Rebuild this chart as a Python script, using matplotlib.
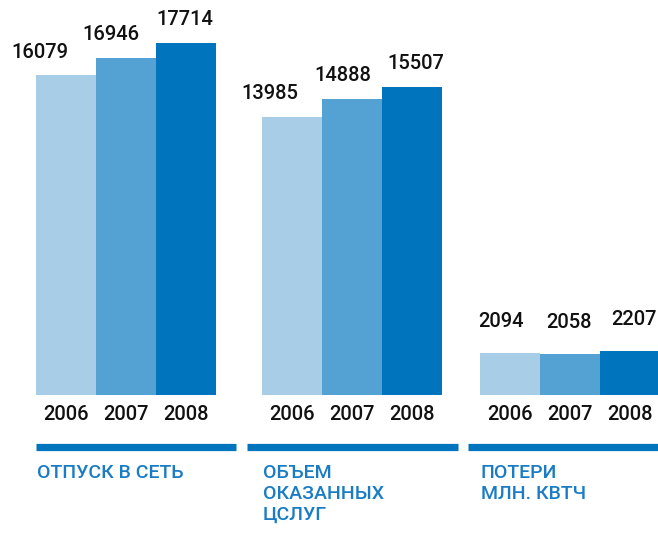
import matplotlib.pyplot as plt
import matplotlib.transforms as mtransforms

# данные
years = ["2006", "2007", "2008"]
groups = ["ОТПУСК В СЕТЬ", "ОБЪЕМ\nОКАЗАННЫХ\nЦСЛУГ", "ПОТЕРИ\nМЛН. КВТЧ"]
otpusk = [16079, 16946, 17714]
obem = [13985, 14888, 15507]
poteri = [2094, 2058, 2207]
values = [otpusk, obem, poteri]

colors = ["#a8cde7", "#53a2d3", "#0074bd"]
text_blue = "#1a7cc4"

plt.rcParams['font.family'] = ['Roboto', 'DejaVu Sans']

W, H = 658, 534
fig = plt.figure(figsize=(W / 100, H / 100), dpi=100)
base_px = 395  # baseline, pixels from top
ax = fig.add_axes([0, (H - base_px) / H, 1, base_px / H])
ax.set_xlim(0, W)
ax.set_ylim(0, max(otpusk) * base_px / 352)
ax.axis('off')

bar_w = 60
group_left = [36, 262, 480]
line_span = [(36, 236), (247, 458), (468, 658)]
# сдвиг подписей значений (px), как в оригинале
label_dx = [[-26, -15, -1], [-22, -9, 4], [-9, -1, 4]]
label_dy = [10, 10, 16]
trans = mtransforms.blended_transform_factory(ax.transData, ax.transAxes)
px = 1 / base_px  # one pixel in axes units (vertical)

for g, vals in enumerate(values):
    for i, v in enumerate(vals):
        x0 = group_left[g] + i * bar_w
        ax.bar(x0, v, width=bar_w, align='edge', color=colors[i], linewidth=0)
        ax.annotate(str(v), (x0 + bar_w / 2, v), xytext=(label_dx[g][i] * 0.72, label_dy[g]),
                    textcoords='offset points', ha='center', va='bottom',
                    fontsize=14.5, fontweight='medium', color='#111111')
        ax.text(x0 + bar_w / 2, -20 * px, years[i], transform=trans, ha='center', va='center',
                fontsize=14.5, fontweight='medium', color='#111111')
    l0, l1 = line_span[g]
    ax.plot([l0, l1], [-51.5 * px] * 2, transform=trans, color="#0074bd", lw=5.2,
            solid_capstyle='butt', clip_on=False)
    ax.text(group_left[g] + 1, -69 * px, groups[g], transform=trans, ha='left', va='top',
            fontsize=14, fontweight='medium', color=text_blue, linespacing=1.22)

fig.savefig("out.png", dpi=100)
